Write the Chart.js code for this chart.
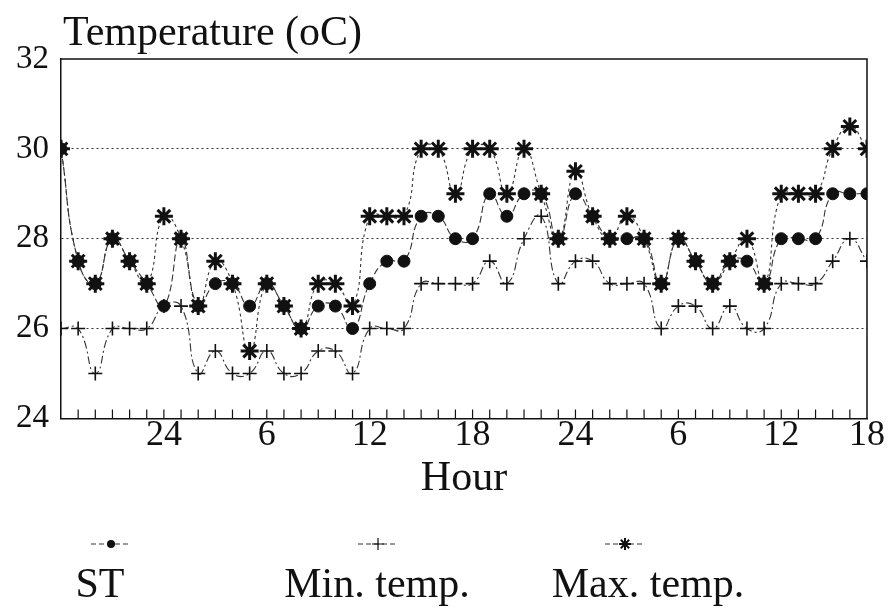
<!DOCTYPE html>
<html>
<head>
<meta charset="utf-8">
<script src="https://cdn.jsdelivr.net/npm/chart.js"></script>
<style>
  html, body { margin: 0; padding: 0; background: #fff; }
</style>
</head>
<body>
<canvas id="chart" width="893" height="610"></canvas>
<script>
// x positions are hour steps from 18:00 on day one; only some get a label
const hourTicks = [6, 12, 18, 24, 30, 36, 42, 47];
const hourTickLabels = ["24", "6", "12", "18", "24", "6", "12", "18"];
const tempTicks = [24, 26, 28, 30, 32];

const seriesNames = ["ST", "Min. temp.", "Max. temp."];

const st = [
  30, 27.5, 27, 28, 27.5, 27, 26.5, 28, 26.5, 27, 27, 26.5,
  27, 26.5, 26, 26.5, 26.5, 26, 27, 27.5, 27.5, 28.5, 28.5, 28,
  28, 29, 28.5, 29, 29, 28, 29, 28.5, 28, 28, 28, 27,
  28, 27.5, 27, 27.5, 27.5, 27, 28, 28, 28, 29, 29, 29,
];
const minTemp = [
  26, 26, 25, 26, 26, 26, 26.5, 26.5, 25, 25.5, 25, 25,
  25.5, 25, 25, 25.5, 25.5, 25, 26, 26, 26, 27, 27, 27,
  27, 27.5, 27, 28, 28.5, 27, 27.5, 27.5, 27, 27, 27, 26,
  26.5, 26.5, 26, 26.5, 26, 26, 27, 27, 27, 27.5, 28, 27.5,
];
const maxTemp = [
  30, 27.5, 27, 28, 27.5, 27, 28.5, 28, 26.5, 27.5, 27, 25.5,
  27, 26.5, 26, 27, 27, 26.5, 28.5, 28.5, 28.5, 30, 30, 29,
  30, 30, 29, 30, 29, 28, 29.5, 28.5, 28, 28.5, 28, 27,
  28, 27.5, 27, 27.5, 28, 27, 29, 29, 29, 30, 30.5, 30,
];

const ink = "#111";
const serif = "'Liberation Serif', 'Times New Roman', serif";

const toPoints = (values) => values.map((y, x) => ({ x, y }));

const datasets = [
  {
    label: seriesNames[0],
    data: toPoints(st),
    borderColor: "#333",
    borderWidth: 1.1,
    borderDash: [7, 3],
    tension: 0.5,
    pointStyle: "circle",
    pointRadius: 6,
    pointBackgroundColor: ink,
    pointBorderColor: ink,
    pointBorderWidth: 1,
  },
  {
    label: seriesNames[1],
    data: toPoints(minTemp),
    borderColor: "#333",
    borderWidth: 1.1,
    borderDash: [8, 3, 2, 3],
    tension: 0.5,
    pointStyle: "cross",
    pointRadius: 7,
    pointBorderColor: ink,
    pointBorderWidth: 1.6,
  },
  {
    label: seriesNames[2],
    data: toPoints(maxTemp),
    borderColor: "#333",
    borderWidth: 1.1,
    borderDash: [3, 3],
    tension: 0.5,
    pointStyle: "star",
    pointRadius: 9,
    pointBorderColor: ink,
    pointBorderWidth: 3,
  },
];

// frame, inward hour ticks, title and the stacked legend under the axis
const decorations = {
  id: "decorations",
  beforeDatasetsDraw(chart) {
    const { ctx, chartArea } = chart;
    const xScale = chart.scales.x;
    ctx.save();
    ctx.strokeStyle = ink;
    ctx.lineWidth = 1.5;
    ctx.beginPath();
    ctx.moveTo(chartArea.left, chartArea.top);
    ctx.lineTo(chartArea.right, chartArea.top);
    ctx.lineTo(chartArea.right, chartArea.bottom);
    ctx.stroke();

    ctx.lineWidth = 1.2;
    ctx.beginPath();
    for (let h = 1; h < 47; h++) {
      const px = xScale.getPixelForValue(h);
      ctx.moveTo(px, chartArea.bottom);
      ctx.lineTo(px, chartArea.bottom - 9);
    }
    ctx.stroke();
    ctx.restore();
  },
  afterDraw(chart) {
    const { ctx, chartArea } = chart;
    ctx.save();
    ctx.fillStyle = ink;
    ctx.font = `42px ${serif}`;
    ctx.textAlign = "left";
    ctx.textBaseline = "alphabetic";
    ctx.fillText("Temperature (oC)", chartArea.left + 2, chartArea.top - 14);

    const markerX = [111, 378, 625];
    const labelX = [100, 377, 648];
    const markerY = 544;
    const labelY = 597;
    chart.data.datasets.forEach((ds, i) => {
      ctx.strokeStyle = ds.borderColor;
      ctx.lineWidth = 1;
      ctx.setLineDash([5, 3]);
      ctx.beginPath();
      ctx.moveTo(markerX[i] - 20, markerY);
      ctx.lineTo(markerX[i] + 20, markerY);
      ctx.stroke();
      ctx.setLineDash([]);

      ctx.strokeStyle = ink;
      ctx.fillStyle = ink;
      if (ds.pointStyle === "circle") {
        ctx.beginPath();
        ctx.arc(markerX[i], markerY, 4, 0, Math.PI * 2);
        ctx.fill();
      } else {
        const r = 6;
        ctx.lineWidth = ds.pointStyle === "star" ? 2 : 1.2;
        ctx.beginPath();
        ctx.moveTo(markerX[i] - r, markerY);
        ctx.lineTo(markerX[i] + r, markerY);
        ctx.moveTo(markerX[i], markerY - r);
        ctx.lineTo(markerX[i], markerY + r);
        if (ds.pointStyle === "star") {
          const d = r * 0.7;
          ctx.moveTo(markerX[i] - d, markerY - d);
          ctx.lineTo(markerX[i] + d, markerY + d);
          ctx.moveTo(markerX[i] + d, markerY - d);
          ctx.lineTo(markerX[i] - d, markerY + d);
        }
        ctx.stroke();
      }

      ctx.font = `42px ${serif}`;
      ctx.textAlign = "center";
      ctx.fillText(ds.label, labelX[i], labelY);
    });
    ctx.restore();
  },
};

new Chart(document.getElementById("chart"), {
  type: "line",
  data: { datasets },
  plugins: [decorations],
  options: {
    responsive: false,
    animation: false,
    layout: { padding: { top: 59, left: 4, right: 26, bottom: 106 } },
    plugins: {
      legend: { display: false },
      title: { display: false },
      tooltip: { enabled: false },
    },
    scales: {
      x: {
        type: "linear",
        min: 0,
        max: 47,
        afterBuildTicks: (scale) => {
          scale.ticks = hourTicks.map((value) => ({ value }));
        },
        ticks: {
          callback: (value) => hourTickLabels[hourTicks.indexOf(value)],
          font: { family: serif, size: 36 },
          color: ink,
          padding: -4,
          maxRotation: 0,
          autoSkip: false,
        },
        grid: { drawOnChartArea: false, drawTicks: false },
        border: { color: ink, width: 1.5 },
        title: {
          display: true,
          text: "Hour",
          font: { family: serif, size: 42 },
          color: ink,
          padding: { top: 0, bottom: 0 },
        },
      },
      y: {
        min: 24,
        max: 32,
        afterBuildTicks: (scale) => {
          scale.ticks = tempTicks.map((value) => ({ value }));
        },
        ticks: {
          font: { family: serif, size: 33 },
          color: ink,
          padding: 12,
        },
        grid: {
          drawTicks: false,
          lineWidth: 1,
          color: (context) =>
            context.tick && (context.tick.value === 24 || context.tick.value === 32)
              ? "rgba(0,0,0,0)"
              : "#333",
        },
        border: { color: ink, width: 1.5, dash: [2, 3] },
      },
    },
  },
});
</script>
</body>
</html>
